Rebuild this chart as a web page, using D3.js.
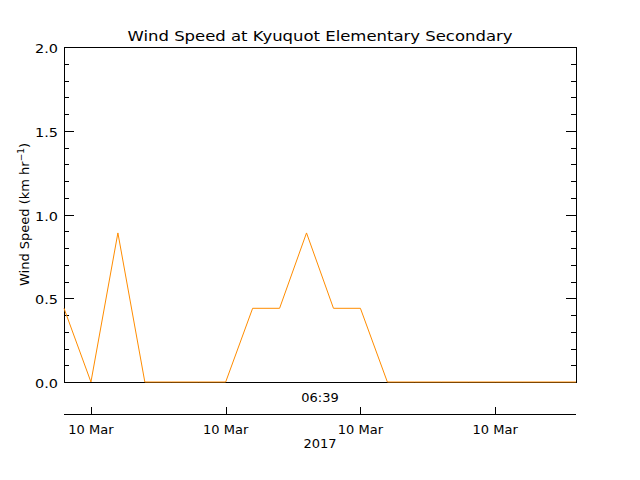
<!DOCTYPE html>
<html>
<head>
<meta charset="utf-8">
<script src="https://cdn.jsdelivr.net/npm/d3@7"></script>
<style>
html,body{margin:0;padding:0;background:#fff;}
text{font-family:"DejaVu Sans",sans-serif;fill:#000;}
</style>
</head>
<body>
<svg id="chart" width="640" height="480"></svg>
<script>
const title = "Wind Speed at Kyuquot Elementary Secondary";
const hours = [0,1,2,3,4,5,6,7,8,9,10,11,12,13,14,15,16,17,18,19];
const speeds = [0.44,0,0.89,0,0,0,0,0.44,0.44,0.89,0.44,0.44,0,0,0,0,0,0,0,0];
const xTickHours = [1,6,11,16];
const xTickLabels = ["10 Mar","10 Mar","10 Mar","10 Mar"];
const yMajorTicks = [0,0.5,1.0,1.5,2.0];
const yMinorTicks = [0.1,0.2,0.3,0.4,0.6,0.7,0.8,0.9,1.1,1.2,1.3,1.4,1.6,1.7,1.8,1.9];
const timeLabel = "06:39";
const yearLabel = "2017";

const svg = d3.select("#chart");
const L = 64, R = 576, T = 47, B = 382, AX = 414;
const x = d3.scaleLinear().domain([0,19]).range([L,R]);
const y = d3.scaleLinear().domain([0,2]).range([B,T]);

// title
svg.append("text").attr("x",(L+R)/2).attr("y",41).attr("text-anchor","middle")
  .attr("font-size",14).attr("textLength",385).attr("lengthAdjust","spacingAndGlyphs").text(title);

// plot box
svg.append("rect").attr("x",L).attr("y",T).attr("width",R-L).attr("height",B-T)
  .attr("fill","none").attr("stroke","#000").attr("stroke-width",1).attr("shape-rendering","crispEdges");

// y axis left (ticks inward)
const yl = svg.append("g").attr("transform",`translate(${L},0)`)
  .call(d3.axisRight(y).tickValues(yMajorTicks).tickSize(10).tickFormat(""));
yl.select(".domain").remove();
const ylm = svg.append("g").attr("transform",`translate(${L},0)`)
  .call(d3.axisRight(y).tickValues(yMinorTicks).tickSize(5).tickFormat(""));
ylm.select(".domain").remove();
const yr = svg.append("g").attr("transform",`translate(${R},0)`)
  .call(d3.axisLeft(y).tickValues(yMajorTicks).tickSize(10).tickFormat(""));
yr.select(".domain").remove();
const yrm = svg.append("g").attr("transform",`translate(${R},0)`)
  .call(d3.axisLeft(y).tickValues(yMinorTicks).tickSize(5).tickFormat(""));
yrm.select(".domain").remove();
svg.selectAll(".tick line").attr("shape-rendering","crispEdges");

// y tick labels
svg.append("g").selectAll("text").data(yMajorTicks).join("text")
  .attr("x",58).attr("y",d=>y(d)+6).attr("text-anchor","end").attr("font-size",13)
  .attr("textLength",23).attr("lengthAdjust","spacingAndGlyphs")
  .text(d=>d3.format(".1f")(d));

// y axis title
const yt = svg.append("text").attr("transform",`translate(29,${(T+B)/2}) rotate(-90)`)
  .attr("text-anchor","middle").attr("font-size",13);
yt.append("tspan").text("Wind Speed (km hr");
yt.append("tspan").attr("dy",-5).attr("font-size",9).text("\u22121");
yt.append("tspan").attr("dy",5).text(")");

// data line
svg.append("path").datum(hours.map((h,i)=>[h,speeds[i]]))
  .attr("fill","none").attr("stroke","#ff8c00").attr("stroke-width",1)
  .attr("d",d3.line().x(d=>x(d[0])).y(d=>y(d[1])));

// x axis (separate, below)
const xa = svg.append("g").attr("transform",`translate(0,${AX})`)
  .call(d3.axisTop(x).tickValues(xTickHours).tickSize(7).tickFormat("").tickSizeOuter(0));
xa.select(".domain").attr("d",`M${L},0H${R}`).attr("stroke","#000").attr("shape-rendering","crispEdges");
xa.selectAll(".tick line").attr("shape-rendering","crispEdges");

svg.append("g").selectAll("text").data(xTickHours).join("text")
  .attr("x",d=>x(d)).attr("y",434).attr("text-anchor","middle").attr("font-size",13)
  .text((d,i)=>xTickLabels[i]);

svg.append("text").attr("x",(L+R)/2).attr("y",402).attr("text-anchor","middle").attr("font-size",13).text(timeLabel);
svg.append("text").attr("x",(L+R)/2).attr("y",448).attr("text-anchor","middle").attr("font-size",13).text(yearLabel);
</script>
</body>
</html>
